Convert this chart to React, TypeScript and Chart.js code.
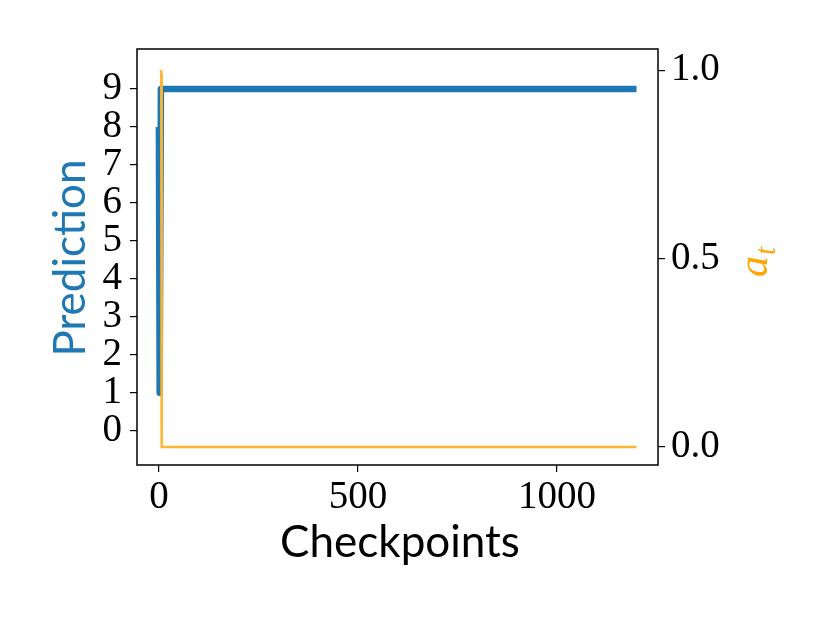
import React, { useEffect, useRef } from "react";
import { Chart, registerables } from "chart.js";

Chart.register(...registerables);

// Data
const predCheckpoints = [0, 2, 5, 1200];
const predValues = [8, 1, 9, 9];
const atCheckpoints = [5, 6, 7, 1200];
const atValues = [1.0, 0.99, 0.0, 0.0];

const xTicks = [0, 500, 1000];
const yLeftTicks = [0, 1, 2, 3, 4, 5, 6, 7, 8, 9];
const yRightTicks = [0, 0.5, 1.0];

const xTitle = "Checkpoints";
const yTitle = "Prediction";

const BLUE = "#1f77b4";
const ORANGE = "#ffb42e";
const ORANGE_TEXT = "#ffa500";

const SERIF = "'Liberation Serif', 'DejaVu Serif', serif";
const SANS = "Lato, 'Noto Sans', sans-serif";

const framePlugin = {
  id: "frame",
  afterDraw(chart: any) {
    const { ctx, chartArea } = chart;
    ctx.save();
    ctx.strokeStyle = "#000";
    ctx.lineWidth = 1.5;
    ctx.strokeRect(chartArea.left, chartArea.top, chartArea.right - chartArea.left, chartArea.bottom - chartArea.top);
    ctx.restore();

    // x title
    ctx.save();
    ctx.fillStyle = "#000";
    ctx.font = `44px ${SANS}`;
    ctx.textAlign = "center";
    ctx.textBaseline = "alphabetic";
    ctx.fillText(xTitle, 400, 557);
    ctx.restore();

    // y title
    ctx.save();
    ctx.translate(85, 258);
    ctx.rotate(-Math.PI / 2);
    ctx.fillStyle = BLUE;
    ctx.font = `44px ${SANS}`;
    ctx.textAlign = "center";
    ctx.textBaseline = "alphabetic";
    ctx.fillText(yTitle, 0, 0);
    ctx.restore();

    // a_t label
    ctx.save();
    ctx.translate(767, 277);
    ctx.rotate(-Math.PI / 2);
    ctx.fillStyle = ORANGE_TEXT;
    ctx.textBaseline = "alphabetic";
    ctx.textAlign = "left";
    ctx.font = `italic 42px ${SERIF}`;
    ctx.fillText("a", 0, 0);
    const w = ctx.measureText("a").width;
    ctx.font = `italic 29px ${SERIF}`;
    ctx.fillText("t", w + 1, 8);
    ctx.restore();
  },
};

export default function App() {
  const ref = useRef<HTMLCanvasElement>(null);
  useEffect(() => {
    if (!ref.current) return;
    const tickGrid = { drawOnChartArea: false, drawTicks: true, tickLength: 7, color: "#000", lineWidth: 1.2 };
    const chart = new Chart(ref.current, {
      type: "line",
      data: {
        datasets: [
          {
            label: "a_t",
            data: atCheckpoints.map((x, i) => ({ x, y: atValues[i] })),
            borderColor: ORANGE,
            borderWidth: 2.5,
            pointRadius: 0,
            yAxisID: "y2",
            borderJoinStyle: "round",
          },
          {
            label: "Prediction",
            data: predCheckpoints.map((x, i) => ({ x, y: predValues[i] })),
            borderColor: BLUE,
            borderWidth: 6.5,
            pointRadius: 0,
            yAxisID: "y",
            borderJoinStyle: "round",
          },
        ],
      },
      options: {
        animation: false,
        responsive: false,
        maintainAspectRatio: false,
        layout: { padding: { top: 49, left: 0, right: 0, bottom: 0 } },
        plugins: { legend: { display: false }, tooltip: { enabled: false } },
        scales: {
          x: {
            type: "linear",
            min: -55,
            max: 1254,
            afterBuildTicks: (s: any) => {
              s.ticks = xTicks.map((v) => ({ value: v }));
            },
            afterFit: (s: any) => {
              s.height = 158;
            },
            grid: tickGrid,
            border: { display: false },
            ticks: {
              color: "#000",
              font: { family: SERIF, size: 39 },
              padding: 2,
              autoSkip: false,
              maxRotation: 0,
              callback: (v: any) => String(v),
            },
          },
          y: {
            type: "linear",
            position: "left",
            min: -0.9,
            max: 10.05,
            afterBuildTicks: (s: any) => {
              s.ticks = yLeftTicks.map((v) => ({ value: v }));
            },
            afterFit: (s: any) => {
              s.width = 137;
            },
            grid: tickGrid,
            border: { display: false },
            ticks: { color: "#000", font: { family: SERIF, size: 39 }, padding: 8, autoSkip: false, callback: (v: any) => String(v) },
          },
          y2: {
            type: "linear",
            position: "right",
            min: -0.048,
            max: 1.056,
            afterBuildTicks: (s: any) => {
              s.ticks = yRightTicks.map((v) => ({ value: v }));
            },
            afterFit: (s: any) => {
              s.width = 172;
            },
            grid: tickGrid,
            border: { display: false },
            ticks: {
              color: "#000",
              font: { family: SERIF, size: 39 },
              padding: 6,
              autoSkip: false,
              callback: (v: any) => Number(v).toFixed(1),
            },
          },
        },
      },
      plugins: [framePlugin],
    });
    return () => chart.destroy();
  }, []);
  return (
    <div style={{ position: "fixed", left: 0, top: 0, width: 830, height: 623, background: "#fff" }}>
      <canvas ref={ref} width={830} height={623} style={{ display: "block" }} />
    </div>
  );
}
